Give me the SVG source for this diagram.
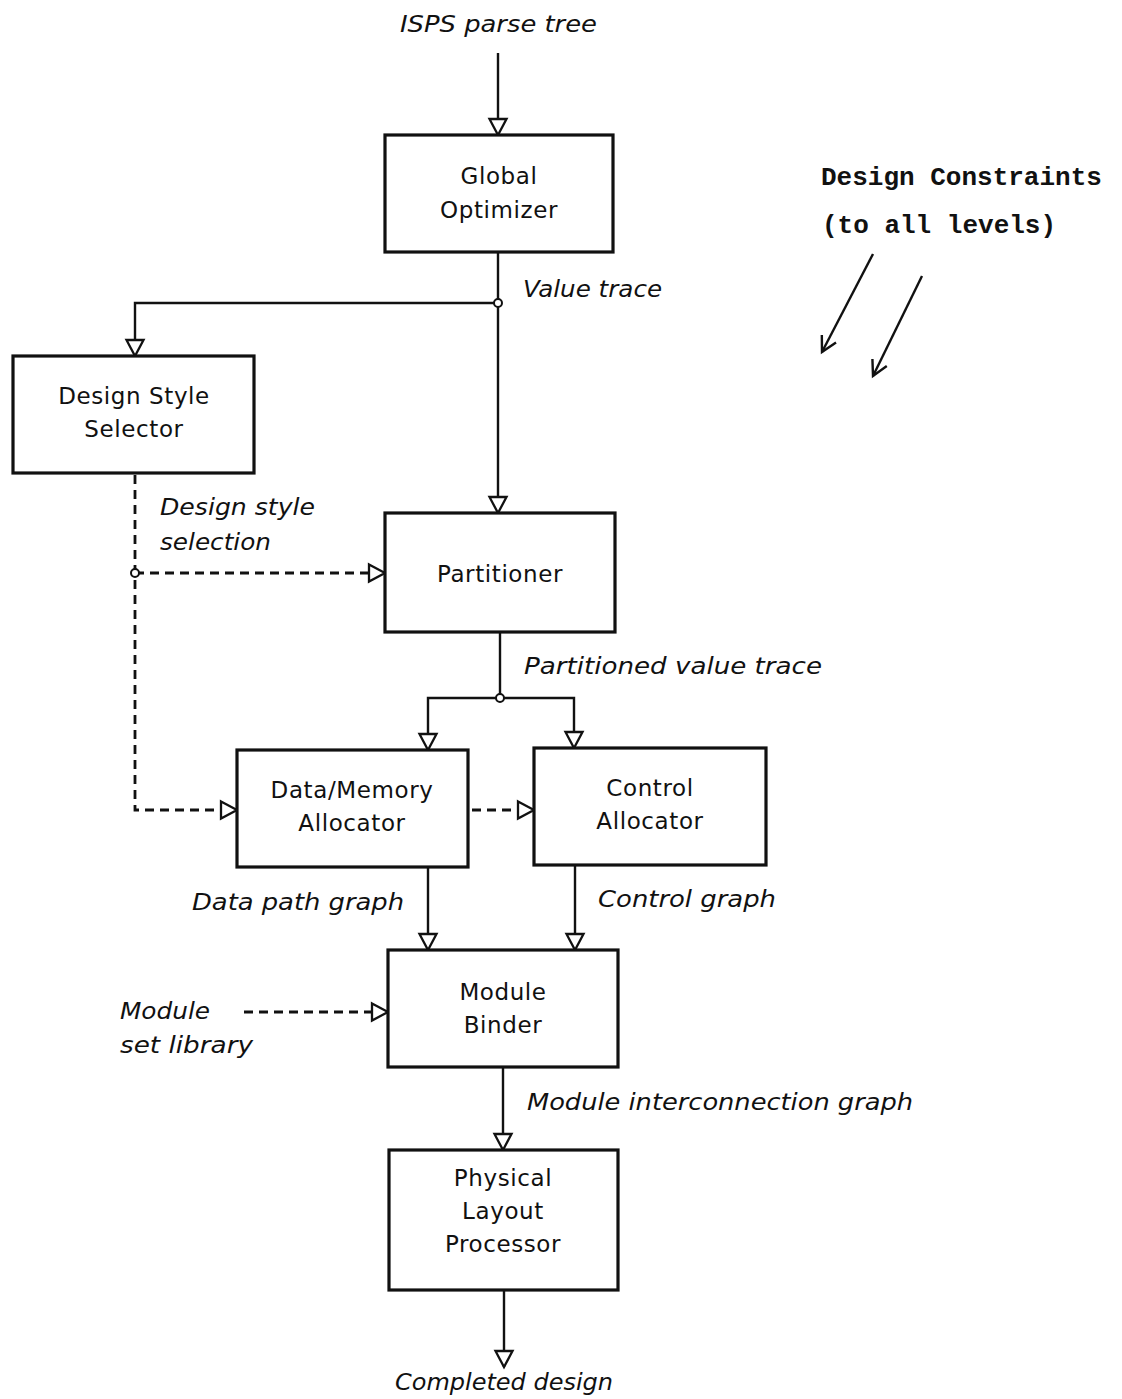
<svg xmlns="http://www.w3.org/2000/svg" width="1122" height="1399" viewBox="0 0 1122 1399">
<defs>
<marker id="tri" viewBox="-19 -11 22 22" refX="0" refY="0" markerWidth="22" markerHeight="22" markerUnits="userSpaceOnUse" orient="auto">
<path d="M-16,-8.5 L0,0 L-16,8.5 Z" fill="#fff" stroke="#111" stroke-width="2.3" stroke-linejoin="miter"/>
</marker>
<marker id="vee" viewBox="-20 -12 24 24" refX="0" refY="0" markerWidth="24" markerHeight="24" markerUnits="userSpaceOnUse" orient="auto">
<path d="M-15,-8 L0,0 L-15,8" fill="none" stroke="#111" stroke-width="2.4"/>
</marker>
</defs>
<style>
.box{fill:#fff;stroke:#111;stroke-width:3.2}
.bt{font-family:"DejaVu Sans",sans-serif;font-size:23px;fill:#111;text-anchor:middle;letter-spacing:0.6px}
.lbl{font-family:"DejaVu Sans",sans-serif;font-style:italic;font-size:23px;fill:#111}
.mono{font-family:"Liberation Mono",monospace;font-weight:bold;font-size:26px;fill:#111}
.ln{fill:none;stroke:#111;stroke-width:2.4}
.ds{fill:none;stroke:#111;stroke-width:2.8;stroke-dasharray:9 6}
.jn{fill:#fff;stroke:#111;stroke-width:2}
</style>
<rect width="1122" height="1399" fill="#fff"/>
<g id="connectors">
<path class="ln" d="M498,53 V135" marker-end="url(#tri)"/>
<path class="ln" d="M498,252 V513" marker-end="url(#tri)"/>
<path class="ln" d="M498,303 H135 V356" marker-end="url(#tri)"/>
<path class="ds" d="M135,475 V810 H237" marker-end="url(#tri)"/>
<path class="ds" d="M135,573 H385" marker-end="url(#tri)"/>
<path class="ln" d="M500,632 V698"/>
<path class="ln" d="M500,698 H428 V750" marker-end="url(#tri)"/>
<path class="ln" d="M500,698 H574 V748" marker-end="url(#tri)"/>
<path class="ds" d="M472,810 H534" marker-end="url(#tri)"/>
<path class="ln" d="M428,867 V950" marker-end="url(#tri)"/>
<path class="ln" d="M575,865 V950" marker-end="url(#tri)"/>
<path class="ds" d="M244,1012 H388" marker-end="url(#tri)"/>
<path class="ln" d="M503,1067 V1150" marker-end="url(#tri)"/>
<path class="ln" d="M504,1290 V1367" marker-end="url(#tri)"/>
<path class="ln" d="M873,254 L822,352" marker-end="url(#vee)"/>
<path class="ln" d="M922,276 L873,376" marker-end="url(#vee)"/>
<circle class="jn" cx="498" cy="303" r="4"/>
<circle class="jn" cx="135" cy="573" r="4"/>
<circle class="jn" cx="500" cy="698" r="4"/>
</g>
<g id="global-optimizer">
<rect class="box" x="385" y="135" width="228" height="117"/>
<text class="bt" x="499" y="184">Global</text>
<text class="bt" x="499" y="218">Optimizer</text>
</g>
<g id="design-style-selector">
<rect class="box" x="13" y="356" width="241" height="117"/>
<text class="bt" x="134" y="404">Design Style</text>
<text class="bt" x="134" y="437">Selector</text>
</g>
<g id="partitioner">
<rect class="box" x="385" y="513" width="230" height="119"/>
<text class="bt" x="500" y="582">Partitioner</text>
</g>
<g id="data-memory-allocator">
<rect class="box" x="237" y="750" width="231" height="117"/>
<text class="bt" x="352" y="798">Data/Memory</text>
<text class="bt" x="352" y="831">Allocator</text>
</g>
<g id="control-allocator">
<rect class="box" x="534" y="748" width="232" height="117"/>
<text class="bt" x="650" y="796">Control</text>
<text class="bt" x="650" y="829">Allocator</text>
</g>
<g id="module-binder">
<rect class="box" x="388" y="950" width="230" height="117"/>
<text class="bt" x="503" y="1000">Module</text>
<text class="bt" x="503" y="1033">Binder</text>
</g>
<g id="physical-layout-processor">
<rect class="box" x="389" y="1150" width="229" height="140"/>
<text class="bt" x="503" y="1186">Physical</text>
<text class="bt" x="503" y="1219">Layout</text>
<text class="bt" x="503" y="1252">Processor</text>
</g>
<g id="labels">
<text class="lbl" x="400" y="32" textLength="197" lengthAdjust="spacingAndGlyphs">ISPS parse tree</text>
<text class="lbl" x="523" y="297" textLength="139" lengthAdjust="spacingAndGlyphs">Value trace</text>
<text class="lbl" x="160" y="515" textLength="155" lengthAdjust="spacingAndGlyphs">Design style</text>
<text class="lbl" x="160" y="550" textLength="111" lengthAdjust="spacingAndGlyphs">selection</text>
<text class="lbl" x="524" y="674" textLength="298" lengthAdjust="spacingAndGlyphs">Partitioned value trace</text>
<text class="lbl" x="192" y="910" textLength="212" lengthAdjust="spacingAndGlyphs">Data path graph</text>
<text class="lbl" x="598" y="907" textLength="178" lengthAdjust="spacingAndGlyphs">Control graph</text>
<text class="lbl" x="120" y="1019" textLength="90" lengthAdjust="spacingAndGlyphs">Module</text>
<text class="lbl" x="120" y="1053" textLength="133" lengthAdjust="spacingAndGlyphs">set library</text>
<text class="lbl" x="527" y="1110" textLength="386" lengthAdjust="spacingAndGlyphs">Module interconnection graph</text>
<text class="lbl" x="395" y="1390" textLength="218" lengthAdjust="spacingAndGlyphs">Completed design</text>
</g>
<g id="design-constraints">
<text class="mono" x="821" y="185">Design Constraints</text>
<text class="mono" x="822" y="233">(to all levels)</text>
</g>
</svg>
